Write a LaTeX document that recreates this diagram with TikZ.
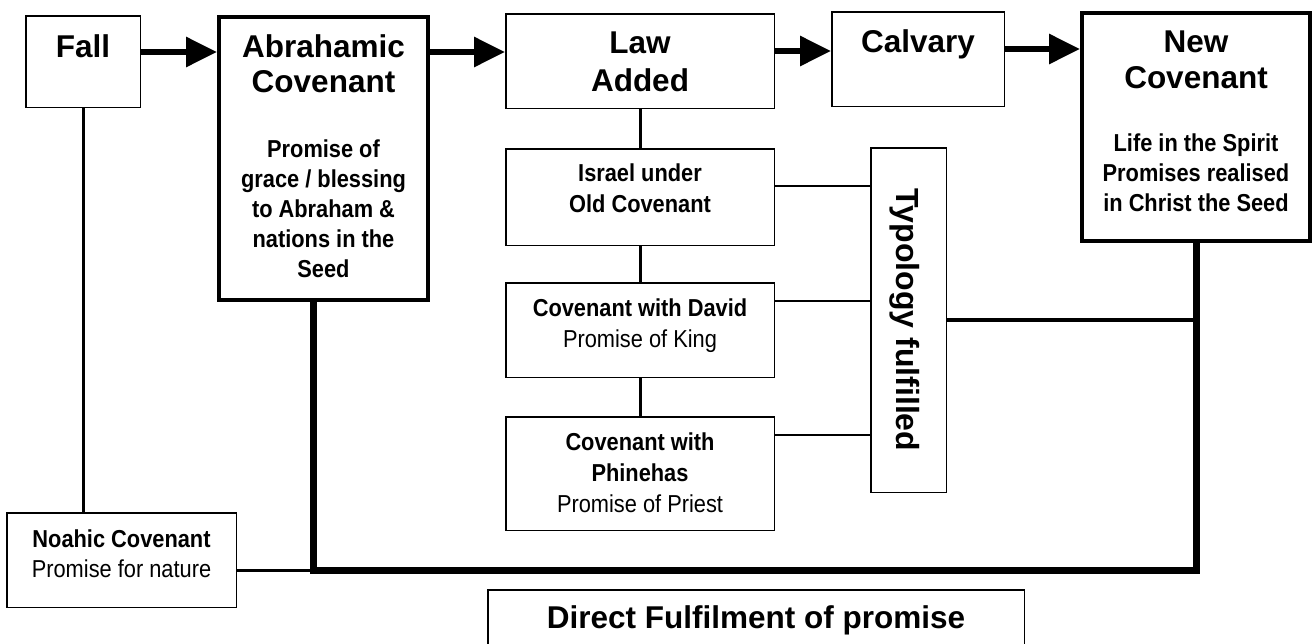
\documentclass[tikz,border=0pt]{standalone}
\usepackage{fontspec}
\setmainfont{Liberation Sans}
\newfontfamily\narrowfont[FakeStretch=0.89]{Liberation Sans}
\usetikzlibrary{arrows.meta}
\begin{document}
\begin{tikzpicture}[x=1pt,y=-1pt,
  box/.style={draw, line width=1.5pt, inner sep=0pt},
  bigbox/.style={draw, line width=4pt, inner sep=0pt},
  ttl/.style={anchor=base, inner sep=0pt, font=\bfseries\fontsize{31.5}{35}\selectfont},
  sb/.style={anchor=base, inner sep=0pt, font=\narrowfont\bfseries\fontsize{24.5}{30}\selectfont},
  sr/.style={anchor=base, inner sep=0pt, font=\narrowfont\fontsize{24.5}{30}\selectfont},
  arr/.style={line width=6pt, -{Triangle[length=31pt,width=29pt]}},
  link/.style={line width=3pt},
  thinlink/.style={line width=1.5pt},
  tylink/.style={line width=4pt},
  trunk/.style={line width=7pt, line join=miter}]
\useasboundingbox (0,0) rectangle (1316,643);

% boxes
\node[box, minimum width=114.5pt, minimum height=91.5pt] (fall) at (83,61.5) {};
\node[bigbox, minimum width=209pt, minimum height=283pt] (abr) at (323.5,158.5) {};
\node[box, minimum width=268.5pt, minimum height=94.5pt] (law) at (640,61) {};
\node[box, minimum width=172.5pt, minimum height=94.5pt] (calv) at (918,59) {};
\node[bigbox, minimum width=228pt, minimum height=228pt] (nc) at (1196,127) {};
\node[box, minimum width=268.5pt, minimum height=96.5pt] (isr) at (640,197) {};
\node[box, minimum width=268.5pt, minimum height=94.5pt] (dav) at (640,330) {};
\node[box, minimum width=268.5pt, minimum height=113.5pt] (phin) at (640,473.5) {};
\node[box, minimum width=75.5pt, minimum height=344.5pt] (typ) at (908.5,320) {};
\node[box, minimum width=229.5pt, minimum height=94.5pt] (noah) at (121.5,560) {};
\node[box, minimum width=536.5pt, minimum height=79.5pt] (direct) at (756,629.5) {};

% texts
\node[ttl] (tfall) at (83,57) {Fall};
\node[ttl] (tabr1) at (323.5,57) {Abrahamic};
\node[ttl] (tabr2) at (323.5,92) {Covenant};
\node[sb] (babr1) at (323.5,157) {Promise of};
\node[sb] (babr2) at (323.5,187) {grace / blessing};
\node[sb] (babr3) at (323.5,217) {to Abraham \&};
\node[sb] (babr4) at (323.5,247) {nations in the};
\node[sb] (babr5) at (323.5,277) {Seed};
\node[ttl] (tlaw1) at (640,53) {Law};
\node[ttl] (tlaw2) at (640,91) {Added};
\node[ttl] (tcalv) at (918,52) {Calvary};
\node[ttl] (tnc1) at (1196,52) {New};
\node[ttl] (tnc2) at (1196,88) {Covenant};
\node[sb] (bnc1) at (1196,151) {Life in the Spirit};
\node[sb] (bnc2) at (1196,181) {Promises realised};
\node[sb] (bnc3) at (1196,211) {in Christ the Seed};
\node[sb] (tisr1) at (640,181) {Israel under};
\node[sb] (tisr2) at (640,212) {Old Covenant};
\node[sb] (tdav1) at (640,316) {Covenant with David};
\node[sr] (tdav2) at (640,347) {Promise of King};
\node[sb] (tphin1) at (640,450) {Covenant with};
\node[sb] (tphin2) at (640,481) {Phinehas};
\node[sr] (tphin3) at (640,512) {Promise of Priest};
\node[sb] (tnoah1) at (121.5,547) {Noahic Covenant};
\node[sr] (tnoah2) at (121.5,577) {Promise for nature};
\node[ttl] (tdirect) at (756,628) {Direct Fulfilment of promise};
\node[anchor=base, inner sep=0pt, rotate=-90, font=\bfseries\fontsize{32}{36}\selectfont] (ttyp) at (896,320) {Typology fulfilled};

% helper coordinates
\coordinate (y1) at (0,52);
\coordinate (y2) at (0,52);
\coordinate (y3) at (0,51);
\coordinate (y4) at (0,49);
\coordinate (yi) at (0,186);
\coordinate (yd) at (0,301);
\coordinate (yp) at (0,435);
\coordinate (yb) at (0,570);
\coordinate (xa) at (313,0);

% main arrows
\draw[arr] (fall.east |- y1) -- (abr.west |- y1);
\draw[arr] (abr.east |- y2) -- (law.west |- y2);
\draw[arr] (law.east |- y3) -- (calv.west |- y3);
\draw[arr] (calv.east |- y4) -- (nc.west |- y4);

% vertical links
\draw[link] (fall.south) -- (noah.north -| fall.south);
\draw[link] (law.south) -- (isr.north);
\draw[link] (isr.south) -- (dav.north);
\draw[link] (dav.south) -- (phin.north);

% typology links
\draw[thinlink] (isr.east |- yi) -- (typ.west |- yi);
\draw[thinlink] (dav.east |- yd) -- (typ.west |- yd);
\draw[thinlink] (phin.east |- yp) -- (typ.west |- yp);
\draw[tylink] (typ.east) -- (nc.south |- typ.east);

% trunk of direct fulfilment
\draw[trunk] (abr.south -| xa) -- (xa |- yb) -- (nc.south |- yb) -- (nc.south);
\draw[link] (noah.east |- yb) -- (xa |- yb);
\end{tikzpicture}
\end{document}
